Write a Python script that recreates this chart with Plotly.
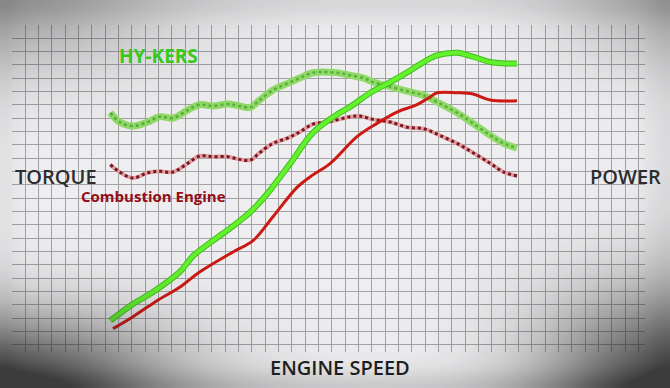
import base64, struct, zlib
import numpy as np
import plotly.graph_objects as go

# ---- data (engine speed and values in grid units) ----
hy_torque_x = [6.4, 7.1, 8.1, 9.2, 10.1, 11.1, 12.2, 13.1, 14.1, 15.2, 16.1, 16.9, 17.6, 18.6, 19.7, 20.6, 21.6,
               23.4, 24.4, 25.4, 26.1, 27.4, 28.7, 29.9, 31.1, 32.4, 33.6, 34.9, 35.9, 36.9]
hy_torque_y = [18.4, 17.7, 17.4, 17.7, 18.1, 18.0, 18.6, 19.0, 18.9, 19.05, 18.9, 18.8, 19.35, 20.1, 20.6, 21.0, 21.4,
               21.4, 21.2, 21.0, 20.7, 20.35, 20.0, 19.7, 19.1, 18.4, 17.6, 16.7, 16.1, 15.75]

ce_torque_x = [6.4, 7.1, 8.1, 9.2, 10.1, 11.1, 12.2, 13.1, 14.1, 15.2, 16.1, 16.9, 17.6, 18.6, 19.7, 20.6, 21.6,
               22.7, 24.4, 25.1, 26.1, 27.4, 28.7, 29.9, 31.1, 32.4, 33.6, 34.9, 35.9, 36.9]
ce_torque_y = [14.5, 13.95, 13.5, 13.9, 14.0, 13.95, 14.6, 15.15, 15.1, 15.1, 14.9, 14.85, 15.4, 16.1, 16.5, 16.95, 17.55,
               17.7, 18.1, 18.15, 17.9, 17.7, 17.3, 17.2, 16.7, 16.1, 15.4, 14.6, 13.95, 13.65]

hy_power_x = [6.4, 8.1, 9.6, 11.6, 12.6, 14.1, 15.6, 16.9, 18.15, 19.9, 21.6, 23.3, 24.4, 25.9, 27.4, 28.7, 29.9,
              30.9, 32.4, 33.6, 34.9, 35.9, 36.9]
hy_power_y = [2.8, 4.05, 4.95, 6.45, 7.65, 8.8, 9.9, 10.95, 12.3, 14.6, 16.9, 18.2, 18.85, 19.9, 20.7, 21.45, 22.2,
              22.7, 22.9, 22.6, 22.2, 22.1, 22.1]

ce_power_x = [6.6, 8.1, 9.9, 11.6, 13.1, 15.6, 17.1, 18.6, 20.4, 21.4, 22.9, 24.9, 26.4, 27.9, 29.4, 30.4, 30.9,
              32.4, 33.6, 34.9, 36.9]
ce_power_y = [2.2, 3.1, 4.3, 5.3, 6.45, 7.95, 8.8, 10.6, 12.8, 13.6, 14.6, 16.6, 17.6, 18.45, 19.0, 19.6, 19.9,
              19.9, 19.8, 19.35, 19.3]

labels = {"hy": "HY-KERS", "ce": "Combustion Engine", "torque": "TORQUE", "power": "POWER", "speed": "ENGINE SPEED"}


# ---- vignette overlay (photo-like shading) ----
def vignette_png(w=670, h=388):
    yy, xx = np.mgrid[0:h, 0:w].astype(float)
    a = np.zeros((h, w))
    a += 0.36 * np.exp(-((xx / 170) ** 2 + (yy / 75) ** 2))
    a += 0.28 * np.exp(-(((w - xx) / 110) ** 2 + (yy / 70) ** 2))
    a += 0.85 * np.exp(-((xx / 170) ** 2 + ((h - yy) / 75) ** 2))
    a += 0.80 * np.exp(-(((w - xx) / 130) ** 2 + ((h - yy) / 100) ** 2))
    a += 0.10 * np.exp(-((yy / 20) ** 2))
    a += 0.16 * np.exp(-(((h - yy) / 18) ** 2))
    a += 0.08 * np.exp(-(((w - xx) / 25) ** 2))
    a += 0.05 * np.exp(-((xx / 20) ** 2))
    a = np.clip(a, 0, 0.88)
    rgba = np.zeros((h, w, 4), dtype=np.uint8)
    rgba[..., 0:3] = 35
    rgba[..., 3] = (a * 255).astype(np.uint8)
    raw = b"".join(b"\x00" + rgba[r].tobytes() for r in range(h))

    def chunk(t, d):
        c = struct.pack(">I", len(d)) + t + d
        return c + struct.pack(">I", zlib.crc32(t + d) & 0xffffffff)

    png = b"\x89PNG\r\n\x1a\n" + chunk(b"IHDR", struct.pack(">IIBBBBB", w, h, 8, 6, 0, 0, 0)) \
        + chunk(b"IDAT", zlib.compress(raw, 9)) + chunk(b"IEND", b"")
    return "data:image/png;base64," + base64.b64encode(png).decode()


fig = go.Figure()

spl = dict(shape="spline", smoothing=1.0)
# HY-KERS torque: light green band with darker dots
fig.add_trace(go.Scatter(x=hy_torque_x, y=hy_torque_y, mode="lines",
                         line=dict(color="rgb(145,218,105)", width=7, **spl), hoverinfo="skip", showlegend=False))
fig.add_trace(go.Scatter(x=hy_torque_x, y=hy_torque_y, mode="lines",
                         line=dict(color="rgb(90,175,60)", width=2.5, dash="dot", **spl), hoverinfo="skip",
                         showlegend=False))
# Combustion engine torque: pink band with dark red dots
fig.add_trace(go.Scatter(x=ce_torque_x, y=ce_torque_y, mode="lines",
                         line=dict(color="rgb(220,160,160)", width=4, **spl), hoverinfo="skip", showlegend=False))
fig.add_trace(go.Scatter(x=ce_torque_x, y=ce_torque_y, mode="lines",
                         line=dict(color="rgb(125,20,35)", width=3, dash="dot", **spl), hoverinfo="skip",
                         showlegend=False))
# Power curves
fig.add_trace(go.Scatter(x=ce_power_x, y=ce_power_y, mode="lines",
                         line=dict(color="rgb(205,25,20)", width=3, **spl), hoverinfo="skip", showlegend=False))
fig.add_trace(go.Scatter(x=hy_power_x, y=hy_power_y, mode="lines",
                         line=dict(color="rgb(65,190,30)", width=6, **spl), hoverinfo="skip", showlegend=False))
fig.add_trace(go.Scatter(x=hy_power_x, y=hy_power_y, mode="lines",
                         line=dict(color="rgb(100,242,45)", width=4, **spl), hoverinfo="skip", showlegend=False))

font = "Open Sans, Lato, sans-serif"
ann = [
    dict(text=labels["hy"], x=(158 - 12) / 633, y=(352 - 56) / 327,
         font=dict(size=19, color="rgb(55,200,30)", family=font, weight=700)),
    dict(text=labels["torque"], x=(56 - 12) / 633, y=(352 - 176) / 327,
         font=dict(size=20, color="rgb(45,45,45)", family=font, weight=600)),
    dict(text=labels["ce"], x=(153 - 12) / 633, y=(352 - 196) / 327,
         font=dict(size=15, color="rgb(150,12,22)", family=font, weight=700)),
    dict(text=labels["power"], x=(625 - 12) / 633, y=(352 - 176) / 327,
         font=dict(size=20, color="rgb(45,45,45)", family=font, weight=600)),
    dict(text=labels["speed"], x=(340 - 12) / 633, y=(352 - 367) / 327,
         font=dict(size=20, color="rgb(30,30,30)", family=font, weight=600)),
]
for a in ann:
    fig.add_annotation(showarrow=False, xref="paper", yref="paper", xanchor="center", yanchor="middle", **a)

grid = dict(showgrid=True, gridcolor="rgb(162,162,165)", gridwidth=1.3, dtick=1, tick0=0,
            showticklabels=False, zeroline=False, showline=False, ticks="")
fig.update_layout(
    width=670, height=388,
    margin=dict(l=12, r=25, t=25, b=36),
    paper_bgcolor="rgb(236,236,238)",
    plot_bgcolor="rgb(238,238,240)",
    xaxis=dict(range=[-0.975, 46.5], **grid),
    yaxis=dict(range=[0.45, 24.98], **grid),
    images=[dict(source=vignette_png(), xref="paper", yref="paper", x=-12 / 633, y=1 + 25 / 327,
                 sizex=670 / 633, sizey=388 / 327, sizing="stretch", xanchor="left", yanchor="top",
                 layer="above")],
)

fig.write_html("out.html")
